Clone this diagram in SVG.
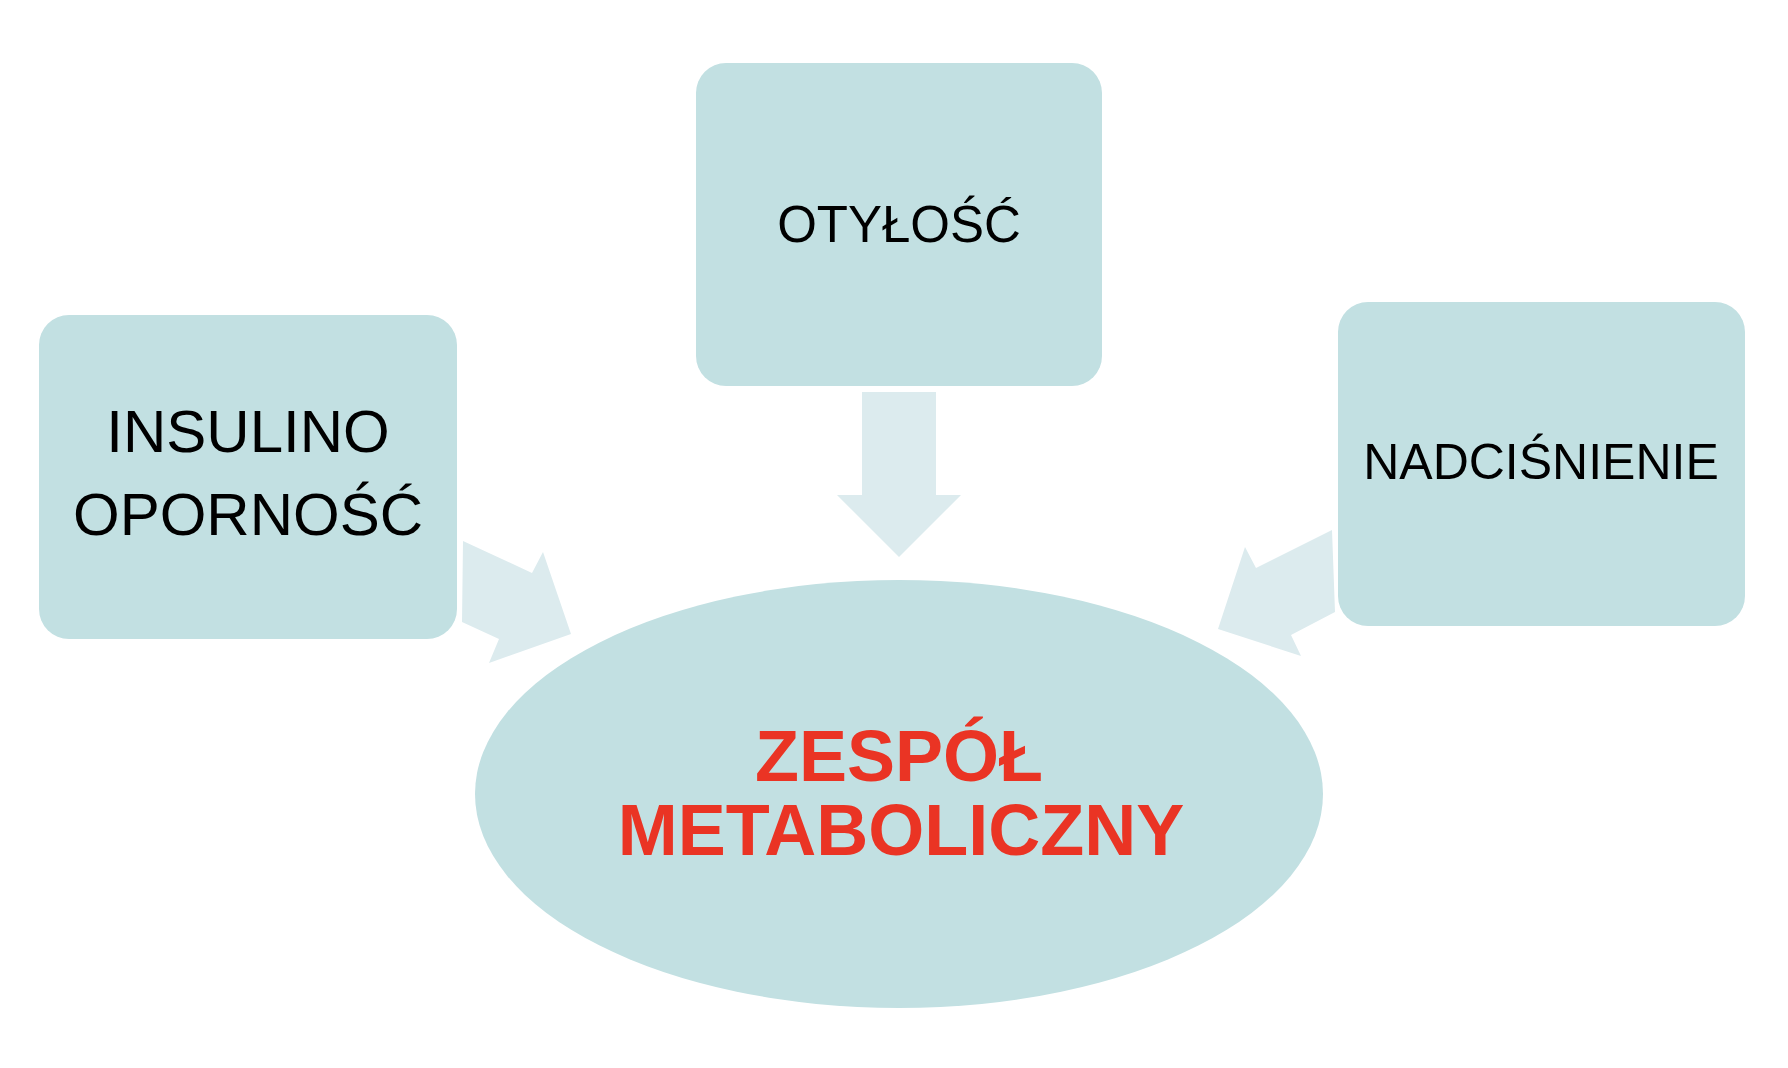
<svg xmlns="http://www.w3.org/2000/svg" width="1788" height="1068" viewBox="0 0 1788 1068">
<style>
.box{fill:#C2E0E2}
.arr{fill:#DCEBEE}
.t{font-family:"Liberation Sans",Arial,sans-serif;fill:#000;text-anchor:middle}
.r{font-family:"Liberation Sans",Arial,sans-serif;fill:#EA3424;font-weight:bold;text-anchor:middle;font-size:72px}
</style>
<rect width="1788" height="1068" fill="#FFFFFF"/>
<g id="connectors">
<polygon class="arr" points="463,541 532,573 543,552 571,634 489,663 499,639 462,622"/>
<polygon class="arr" points="862,392 936,392 936,495 961,495 899,557 837,495 862,495"/>
<polygon class="arr" points="1332,530 1256,568 1245,547 1218,629 1301,656 1291,635 1335,612"/>
</g>
<g id="node-insulino">
<rect class="box" x="39" y="315" width="418" height="324" rx="30"/>
<text class="t" x="248" y="452" font-size="60">INSULINO</text>
<text class="t" x="248" y="535" font-size="60">OPORNOŚĆ</text>
</g>
<g id="node-otylosc">
<rect class="box" x="696" y="63" width="406" height="323" rx="30"/>
<text class="t" x="899" y="242" font-size="51">OTYŁOŚĆ</text>
</g>
<g id="node-nadcisnienie">
<rect class="box" x="1338" y="302" width="407" height="324" rx="30"/>
<text class="t" x="1541" y="479" font-size="50">NADCIŚNIENIE</text>
</g>
<g id="node-zespol">
<ellipse class="box" cx="899" cy="794" rx="424" ry="214"/>
<text class="r" x="899" y="781">ZESPÓŁ</text>
<text class="r" x="901" y="855">METABOLICZNY</text>
</g>
</svg>
